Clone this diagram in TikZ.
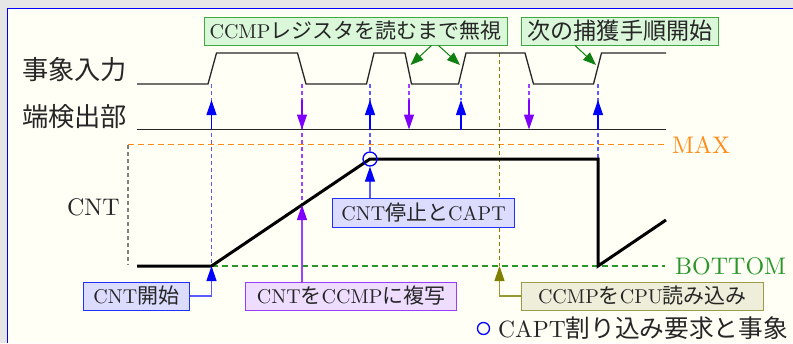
\documentclass[tikz,border=0pt]{standalone}
\usepackage{fontspec}
\setmainfont{lmroman10-regular}[Extension=.otf]
\newfontfamily\jp{Noto Sans CJK JP}[Scale=1.05]
\usetikzlibrary{arrows.meta}
\definecolor{bgc}{HTML}{FFFFF6}
\definecolor{framegray}{HTML}{E6E6E6}
\definecolor{txt}{HTML}{262626}
\definecolor{myblue}{HTML}{0000FF}
\definecolor{lblue}{HTML}{5A5AFF}
\definecolor{mypurple}{HTML}{8000FF}
\definecolor{lpurple}{HTML}{A040FF}
\definecolor{mygreen}{HTML}{108010}
\definecolor{myolive}{HTML}{808000}
\definecolor{myorange}{HTML}{FF8C1A}
\definecolor{botgreen}{HTML}{2A962A}
\definecolor{gfill}{HTML}{DAF7DA}
\definecolor{gdraw}{HTML}{40A840}
\definecolor{bfill}{HTML}{DCDCFF}
\definecolor{bdraw}{HTML}{2030FF}
\definecolor{pfill}{HTML}{EFDDFF}
\definecolor{pdraw}{HTML}{9A3CFF}
\definecolor{ofill}{HTML}{EEEEDA}
\definecolor{odraw}{HTML}{9C9C48}
\tikzset{
  wave/.style={line width=1.3pt, draw=txt},
  dsh/.style={line width=1.1pt, dash pattern=on 4pt off 3pt},
  ldsh/.style={line width=1.2pt, dash pattern=on 6pt off 4pt},
  bigtext/.style={font=\fontsize{24}{27}\selectfont, text=txt, inner sep=0pt},
  boxlabel/.style={font=\fontsize{20}{23}\selectfont, text=txt, line width=1pt,
    minimum height=28pt, inner xsep=4pt, inner ysep=0pt},
  gbox/.style={boxlabel, fill=gfill, draw=gdraw},
  bbox/.style={boxlabel, fill=bfill, draw=bdraw},
  pbox/.style={boxlabel, fill=pfill, draw=pdraw},
  obox/.style={boxlabel, fill=ofill, draw=odraw},
  bup/.style={line width=1.2pt, draw=myblue, -{Triangle[length=15pt,width=10pt]}},
  pdown/.style={line width=1.2pt, draw=mypurple, -{Triangle[length=15pt,width=10pt]}},
  garrow/.style={line width=1pt, draw=mygreen, -{Triangle[length=13pt,width=10pt]}},
  bconn/.style={line width=1.2pt, draw=lblue, -{Triangle[length=15pt,width=10pt,color=myblue]}},
  pconn/.style={line width=1.2pt, draw=lpurple, -{Triangle[length=15pt,width=10pt,color=mypurple]}},
  oconn/.style={line width=1.2pt, draw=myolive!80, -{Triangle[length=15pt,width=10pt,color=myolive]}},
}
\begin{document}
\begin{tikzpicture}[x=1pt,y=-1pt]
\useasboundingbox (0,0) rectangle (793,343);
\fill[framegray] (0,0) rectangle (793,343);
\fill[bgc] (7.5,8.5) rectangle (793,343);
\draw[myblue, line width=1.6pt] (7.5,343) -- (7.5,8.5) -- (793,8.5);

% row labels
\node[bigtext, anchor=west] (lev) at (22,70) {\jp\fontsize{25}{28}\selectfont 事象入力};
\node[bigtext, anchor=west] (ledge) at (22,117) {\jp\fontsize{25}{28}\selectfont 端検出部};
\node[bigtext, anchor=east] (lcnt) at (120,207) {CNT};
\node[bigtext, anchor=west, text=myorange] (lmax) at (672,145) {MAX};
\node[bigtext, anchor=west, text=botgreen] (lbot) at (675,266) {BOTTOM};

% reference lines
\draw[ldsh, draw=myorange] (128,144.5) -- (665,144.5);
\draw[dsh, draw=gray] (128,144.5) -- (128,265);
\draw[ldsh, draw=botgreen] (211.5,266) -- (665,266);
\draw[dsh, draw=myolive] (499.5,53) -- (499.5,266);

% vertical edge guides
\draw[dsh, draw=lblue] (211.5,84) -- (211.5,266);
\draw[dsh, draw=lblue] (370,84) -- (370,152);
\draw[dsh, draw=lblue] (461,84) -- (461,100);
\draw[dsh, draw=lblue] (598,84) -- (598,159);
\draw[dsh, draw=lpurple] (302,84) -- (302,205);
\draw[dsh, draw=lpurple] (409,84) -- (409,100);
\draw[dsh, draw=lpurple] (529,84) -- (529,100);

% event input waveform
\draw[wave] (137,84) -- (208,84) -- (216.5,53) -- (297.5,53) -- (306,84) -- (366.5,84)
  -- (374,53) -- (405,53) -- (411.5,84) -- (458.5,84) -- (466,53) -- (525,53)
  -- (533.5,84) -- (593.5,84) -- (601.5,53) -- (666,53);
% edge detector line
\draw[wave] (137,129.5) -- (666,129.5);

% edge detection arrows
\foreach \x in {211.5,370,461,598} \draw[bup] (\x,129.5) -- (\x,100);
\foreach \x in {302,409,529} \draw[pdown] (\x,100) -- (\x,129.5);

% counter waveform
\draw[line width=3pt, black, line join=miter] (137,266) -- (211.5,266) -- (370,159)
  -- (598,159) -- (598,266) -- (666,220);
\node[circle, draw=myblue, line width=1.3pt, minimum size=14pt, inner sep=0pt] (capt) at (370,159) {};

% key points
\coordinate (cstart) at (211.5,266);
\coordinate (ccopy) at (302,205);
\coordinate (cread) at (499.5,266);
\coordinate (e2f) at (410.5,65);
\coordinate (e3r) at (460,65);
\coordinate (e4r) at (596,65);

% label boxes
\node[gbox, minimum width=303pt] (ignore) at (355.5,31) {CCMP{\jp レジスタを読むまで無視}};
\node[gbox, minimum width=196.6pt, font=\fontsize{22}{25}\selectfont] (next) at (620,31) {{\jp 次の捕獲手順開始}};
\node[bbox, minimum width=106pt] (start) at (136.3,296) {CNT{\jp 開始}};
\node[pbox, minimum width=211pt] (copy) at (351.2,296) {CNT{\jp を}CCMP{\jp に複写}};
\node[bbox, minimum width=181.6pt, minimum height=29pt] (stop) at (423.5,213) {CNT{\jp 停止と}CAPT};
\node[obox, minimum width=241.6pt] (read) at (642.5,296) {CCMP{\jp を}CPU{\jp 読み込み}};

% label connectors
\draw[garrow] ([xshift=76pt]ignore.south) -- (e2f);
\draw[garrow] ([xshift=83pt]ignore.south) -- (e3r);
\draw[garrow] ([xshift=-45pt]next.south) -- (e4r);
\draw[bconn] (start.east) -| (cstart);
\draw[pconn] (ccopy |- copy.north) -- (ccopy);
\draw[bconn] (capt.south |- stop.north) -- (capt.south);
\draw[oconn] (read.west) -| (cread);

% legend
\node[circle, draw=myblue, line width=1.3pt, minimum size=12pt, inner sep=0pt] (lgc) at (483.5,328.5) {};
\node[bigtext, anchor=west, font=\fontsize{23.5}{26}\selectfont] (lgt) at (498,328) {CAPT{\jp 割り込み要求と事象}};
\end{tikzpicture}
\end{document}
